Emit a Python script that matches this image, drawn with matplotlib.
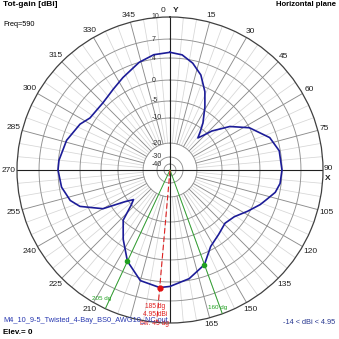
import numpy as np
import matplotlib
matplotlib.use('Agg')
import matplotlib.pyplot as plt
from matplotlib import transforms

plt.rcParams['font.family'] = ['Liberation Sans', 'DejaVu Sans']

######## pattern data (azimuth in deg, total gain in dBi) ########
azimuth = [0, 6, 12, 18, 24, 29, 35, 38, 41, 44, 47, 54, 62, 72, 80,
           90, 97, 102, 107, 111, 118, 126, 134, 143, 152, 160, 170, 180,
           185, 195, 205, 214, 223, 228, 231, 235, 240, 248, 253, 261,
           270, 275, 286, 297, 303, 315, 325, 333, 344, 352]
gain = [4.9, 4.6, 3.5, 1.8, -1.0, -4.3, -8.4, -11.0, -13.8, -11.5, -8.5, -3.8, 0.0, 2.7, 3.8,
        4.0, 3.8, 3.2, 2.0, 1.2, -0.5, -2.5, -3.2, -2.2, -0.8, 1.95, 3.7, 4.7,
        4.95, 4.4, 1.95, -1.5, -5.1, -10.0, -12.0, -9.0, -3.0, 1.3, 2.6, 3.6,
        4.0, 3.9, 3.2, 2.0, 1.0, 0.9, 1.6, 2.5, 4.0, 4.7]

max_az = 185
max_gain = 4.95
bw_az = [205, 160]
bw_gain = [1.95, 1.95]
beamwidth = 45
min_gain = -14

######## radial grid (dB rings and their radius as fraction of the outer ring) ########
ring_db = [-40, -30, -20, -10, -5, 0, 4, 7, 10]
ring_labels = ['-40', '-30', '-20', '-10', '-5', '0', '4', '7', '10']
scale_db = [-50, -40, -30, -20, -10, -5, 0, 4, 7, 10, 20]
scale_frac = [0.0, 0.039, 0.085, 0.176, 0.340, 0.451, 0.588, 0.732, 0.856, 1.0, 1.5]

angle_ticks = list(range(15, 360, 15))
angle_labels = [str(a) for a in angle_ticks]
hidden_angles = (90, 180, 195)


def db_to_r(v):
    return np.interp(v, scale_db, scale_frac)


def r_to_db(v):
    return np.interp(v, scale_frac, scale_db)


W = 339
fig = plt.figure(figsize=(W / 100, W / 100), dpi=100)
R = 153
cx, cy = 170, 170
ax = fig.add_axes([(cx - R) / W, 1 - (cy + R) / W, 2 * R / W, 2 * R / W], projection='polar')
ax.set_theta_zero_location('N')
ax.set_theta_direction(-1)
ax.set_rscale('function', functions=(db_to_r, r_to_db))
ax.set_rlim(-50, 10)
ax.grid(False)
ax.set_yticks([])
ax.set_xticks([])
ax.spines['polar'].set_color('#404040')
ax.spines['polar'].set_linewidth(0.9)
ax.patch.set_facecolor('white')

th = np.linspace(0, 2 * np.pi, 721)
for db in ring_db[:-1]:
    ax.plot(th, np.full_like(th, db), color='#909090', lw=0.65, zorder=1)

for a in range(0, 360, 5):
    if a % 90 == 0:
        continue
    if a % 15 == 0:
        ax.plot([np.radians(a)] * 2, [-20, 10], color='#8c8c8c', lw=0.65, zorder=1)
    else:
        ax.plot([np.radians(a)] * 2, [-20, 10], color='#d6d6d6', lw=0.55, zorder=0.9)

for a in (0, 90, 180, 270):
    ax.plot([np.radians(a)] * 2, [-50, 10], color='#202020', lw=0.8, zorder=2)

# angle labels just outside the outer ring, nearest edge about 2 px off the ring
for a, lab in zip(angle_ticks, angle_labels):
    if a in hidden_angles:
        continue
    t = np.radians(a)
    half_w = 2.2 * len(lab)
    half_h = 3.5
    rr = R + 2 + half_w * abs(np.sin(t)) + half_h * abs(np.cos(t))
    ax.text(0.5 + rr * np.sin(t) / (2 * R), 0.5 + rr * np.cos(t) / (2 * R), lab,
            transform=ax.transAxes, fontsize=6, color='#202020',
            ha='center', va='center', clip_on=False)

# ring values along the upper vertical axis
lab_tr = transforms.offset_copy(ax.transData, fig=fig, x=-18.5, units='dots')
for db, lab in zip(ring_db, ring_labels):
    ax.text(0, db, lab, transform=lab_tr, ha='left', va='center', fontsize=5,
            color='#303030', zorder=3)

# beamwidth and maximum markers
for a, g in zip(bw_az, bw_gain):
    ax.plot([np.radians(a)] * 2, [-50, 10], color='#30a030', lw=0.7, zorder=3)
    ax.plot(np.radians(a), g, 'o', color='#20a020', ms=3, zorder=5)
    ax.text(np.radians(a + (3 if a > 180 else 1)), 9.0, '%d dg' % a, fontsize=4.5,
            color='#20a020', ha='center', va='center', zorder=4)

ax.plot([np.radians(max_az)] * 2, [-50, 10], color='#e02020', lw=0.8,
        ls=(0, (5, 2.5)), zorder=3)

# total gain pattern
az = np.radians(azimuth + [azimuth[0]])
gg = gain + [gain[0]]
ax.plot(az, gg, color='#1c1c98', lw=1.2, zorder=4)
ax.plot(np.radians(max_az), max_gain, 'o', color='#e01010', ms=3.5, zorder=5)

ax.text(np.radians(max_az + 1.5), 7.4,
        '%d dg\n%.2f dBi\nbw: %d dg' % (max_az, max_gain, beamwidth),
        fontsize=4.8, color='#e02020', ha='center', va='top', linespacing=1.25,
        zorder=6, clip_on=False)

# axis names beside the 0 and 90 labels
fig.text(163 / W, 1 - 10 / W, '0', fontsize=6, ha='center', va='center', color='#202020')
fig.text(176 / W, 1 - 11 / W, 'Y', fontsize=6, ha='center', va='center',
         color='#202020', weight='bold')
fig.text(328 / W, 1 - 169 / W, '90', fontsize=6, ha='center', va='center', color='#202020')
fig.text(328 / W, 1 - 178 / W, 'X', fontsize=6, ha='center', va='center',
         color='#202020', weight='bold')

# header and footer texts
fig.text(3 / W, 1 - 5 / W, 'Tot-gain [dBi]', fontsize=6, weight='bold', va='center')
fig.text(3 / W, 1 - 25 / W, 'Freq=590', fontsize=5.3, va='center')
fig.text(336 / W, 1 - 5 / W, 'Horizontal plane', fontsize=5.6, weight='bold',
         ha='right', va='center')
fig.text(3 / W, 1 - 321 / W, 'M4_10_9-5_Twisted_4-Bay_BS0_AWG10_NC.out',
         fontsize=5.3, color='#2838b0', va='center', zorder=1)
fig.text(3 / W, 1 - 333 / W, 'Elev.= 0', fontsize=5.8, weight='bold', va='center')
fig.text(335 / W, 1 - 323 / W, '%d < dBi < %.2f' % (min_gain, max_gain),
         fontsize=5.3, color='#283890', ha='right', va='center')

fig.savefig('out.png', dpi=100)
